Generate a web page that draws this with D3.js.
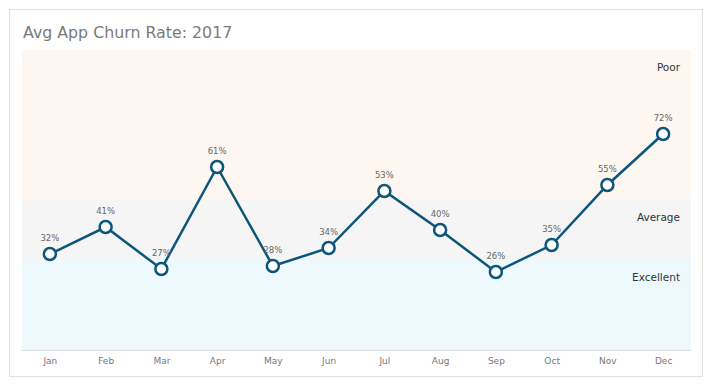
<!DOCTYPE html>
<html>
<head>
<meta charset="utf-8">
<script src="https://cdn.jsdelivr.net/npm/d3@7"></script>
<style>
  body { margin:0; background:#fff; }
  svg text { font-family: "DejaVu Sans", Verdana, sans-serif; }
</style>
</head>
<body>
<div class="canvas"></div>
<script>
// chart data
const months = ['Jan','Feb','Mar','Apr','May','Jun','Jul','Aug','Sep','Oct','Nov','Dec'];
const churn = [32,41,27,61,28,34,53,40,26,35,55,72];
const bandNames = ['Poor','Average','Excellent'];
const bandFrom = [50,30,0];
const bandTo = [100,50,30];

const dim = {width:713, height:390};
const plot = {left:22, right:691, top:50, bottom:350};
const bandColours = ['#fdf6f1','#f5f5f5','#eef9fe'];

const svg = d3.select('.canvas')
    .append('svg')
    .attr('width',dim.width)
    .attr('height',dim.height);

// card
svg.append('rect')
    .attr('x',9.5).attr('y',9.5)
    .attr('width',693).attr('height',367)
    .attr('fill','#fff')
    .attr('stroke','#e0e0e0');

svg.append('text')
    .attr('x',23).attr('y',38)
    .attr('font-size',15.8)
    .attr('fill','#7a7a7a')
    .text('Avg App Churn Rate: 2017');

const x = d3.scalePoint()
    .domain(months)
    .range([plot.left,plot.right])
    .padding(0.5);

const y = d3.scaleLinear()
    .domain([0,100])
    .range([plot.bottom,plot.top]);

// background bands
const bands = bandNames.map((name,i)=>({name, from:bandFrom[i], to:bandTo[i], colour:bandColours[i]}));
svg.append('g').selectAll('rect')
    .data(bands)
    .enter().append('rect')
    .attr('x',plot.left)
    .attr('width',plot.right-plot.left)
    .attr('y',d=>y(d.to))
    .attr('height',d=>y(d.from)-y(d.to))
    .attr('fill',d=>d.colour);

svg.append('g').selectAll('text')
    .data(bands)
    .enter().append('text')
    .attr('x',plot.right-11)
    .attr('y',d=>y(d.to)+21)
    .attr('text-anchor','end')
    .attr('font-size',10.5)
    .attr('fill','#333')
    .text(d=>d.name);

// x axis
const xAxis = svg.append('g')
    .attr('transform',`translate(0,${plot.bottom})`)
    .call(d3.axisBottom(x).tickSize(0).tickPadding(8));
xAxis.select('.domain')
    .attr('stroke','#dcdcdc')
    .attr('d',`M${plot.left},0.5H${plot.right}`);
xAxis.selectAll('text')
    .attr('font-size',9)
    .attr('fill','#777')
    .attr('font-family','"DejaVu Sans", Verdana, sans-serif');

const data = months.map((m,i)=>({month:m, value:churn[i]}));

const line = d3.line()
    .x(d=>x(d.month))
    .y(d=>y(d.value));

svg.append('path')
    .datum(data)
    .attr('d',line)
    .attr('fill','none')
    .attr('stroke','#0d5679')
    .attr('stroke-width',2.5);

svg.append('g').selectAll('circle')
    .data(data)
    .enter().append('circle')
    .attr('cx',d=>x(d.month))
    .attr('cy',d=>y(d.value))
    .attr('r',6)
    .attr('fill','#fff')
    .attr('stroke','#0d5679')
    .attr('stroke-width',2.5);

svg.append('g').selectAll('text')
    .data(data)
    .enter().append('text')
    .attr('x',d=>x(d.month))
    .attr('y',d=>y(d.value)-13)
    .attr('text-anchor','middle')
    .attr('font-size',8.5)
    .attr('fill','#666')
    .text(d=>d.value+'%');
</script>
</body>
</html>
